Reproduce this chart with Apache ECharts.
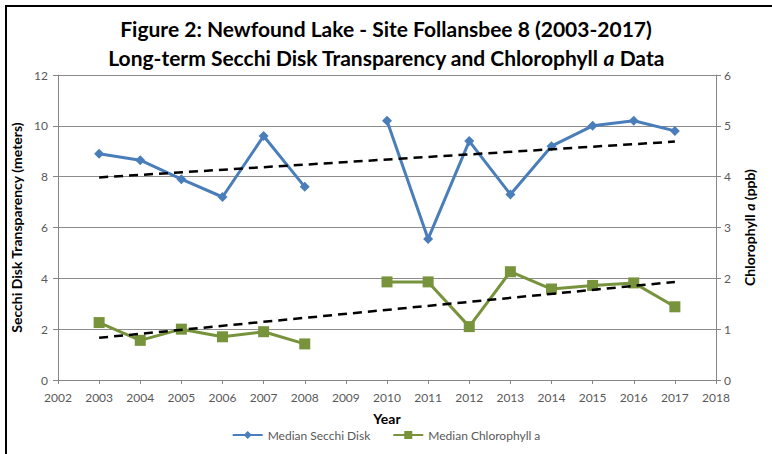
<!DOCTYPE html>
<html>
<head>
<meta charset="utf-8">
<script src="https://cdn.jsdelivr.net/npm/echarts@6/dist/echarts.min.js"></script>
<style>
  html, body { margin: 0; padding: 0; background: #fff; }
  #frame { position: absolute; left: 5px; top: 5px; width: 767px; height: 449px;
           border-left: 2px solid #000; border-top: 2px solid #000; box-sizing: border-box; }
  #chart { position: absolute; left: 0; top: 0; width: 772px; height: 454px; }
</style>
</head>
<body>
<div id="chart"></div>
<div id="frame"></div>
<script>
// chart data
const years = [2003, 2004, 2005, 2006, 2007, 2008, 2009, 2010, 2011, 2012, 2013, 2014, 2015, 2016, 2017];
const secchi = [8.9, 8.65, 7.9, 7.2, 9.6, 7.6, null, 10.2, 5.55, 9.4, 7.3, 9.2, 10.0, 10.2, 9.8];
const chlorophyll = [1.13, 0.78, 1.0, 0.85, 0.95, 0.71, null, 1.93, 1.93, 1.05, 2.13, 1.79, 1.86, 1.91, 1.44];
// trend line ends (year, value)
const secchiTrend = [[2003, 7.97], [2017, 9.38]];
const chlTrend = [[2003, 0.83], [2017, 1.93]];

const toPairs = (vals) => years.map((y, i) => [y, vals[i] == null ? '-' : vals[i]]);

const font = 'Lato, "Open Sans", sans-serif';
const grey = '#595959';

const chart = echarts.init(document.getElementById('chart'), null, { renderer: 'svg' });
chart.setOption({
    animation: false,
    textStyle: { fontFamily: font },
    title: {
        left: 'center',
        top: 13,
        itemGap: 8,
        text: 'Figure 2: Newfound Lake - Site Follansbee 8 (2003-2017)',
        subtext: '{b|Long-term Secchi Disk Transparency and Chlorophyll }{i|a}{b| Data}',
        textStyle: { fontFamily: font, fontSize: 21, fontWeight: 'bold', color: '#000' },
        subtextStyle: {
            rich: {
                b: { fontFamily: font, fontSize: 21, fontWeight: 'bold', color: '#000' },
                i: { fontFamily: font, fontSize: 21, fontWeight: 'bold', fontStyle: 'italic', color: '#000' }
            }
        }
    },
    legend: {
        bottom: 8,
        left: 'center',
        itemWidth: 30,
        itemHeight: 10,
        itemGap: 22,
        textStyle: { color: grey, fontSize: 12, fontFamily: font },
        data: ['Median Secchi Disk', 'Median Chlorophyll a']
    },
    grid: { left: 58, right: 56, top: 75, bottom: 74 },
    xAxis: {
        type: 'value',
        min: 2002,
        max: 2018,
        interval: 1,
        name: 'Year',
        nameLocation: 'middle',
        nameGap: 31,
        nameTextStyle: { fontWeight: 'bold', fontSize: 14, color: '#000' },
        axisLine: { lineStyle: { color: '#868686', width: 1 } },
        axisTick: { show: true, inside: false, length: 4, lineStyle: { color: '#868686' } },
        axisLabel: { color: grey, fontSize: 12, margin: 11, formatter: (v) => String(v) },
        splitLine: { show: false }
    },
    yAxis: [{
        type: 'value',
        min: 0,
        max: 12,
        interval: 2,
        name: 'Secchi Disk Transparency (meters)',
        nameLocation: 'middle',
        nameGap: 32,
        nameTextStyle: { fontWeight: 'bold', fontSize: 14, color: '#000' },
        axisLine: { show: true, lineStyle: { color: '#868686' } },
        axisTick: { show: true, length: 5, lineStyle: { color: '#868686' } },
        axisLabel: { color: grey, fontSize: 12, margin: 10 },
        splitLine: { lineStyle: { color: '#8c8c8c', width: 1 } }
    }, {
        type: 'value',
        min: 0,
        max: 6,
        interval: 1,
        position: 'right',
        name: '{b|Chlorophyll }{i|a}{b| (ppb)}',
        nameLocation: 'middle',
        nameGap: 26,
        nameTextStyle: {
            rich: {
                b: { fontFamily: font, fontWeight: 'bold', fontSize: 14, color: '#000' },
                i: { fontFamily: font, fontWeight: 'bold', fontStyle: 'italic', fontSize: 14, color: '#000' }
            }
        },
        axisLine: { show: true, lineStyle: { color: '#868686' } },
        axisTick: { show: true, length: 5, lineStyle: { color: '#868686' } },
        axisLabel: { color: grey, fontSize: 12, margin: 8 },
        splitLine: { show: false }
    }],
    series: [{
        name: 'Median Secchi Disk',
        type: 'line',
        yAxisIndex: 0,
        data: toPairs(secchi),
        connectNulls: false,
        symbol: 'diamond',
        symbolSize: 10,
        lineStyle: { color: '#4a7ebb', width: 3 },
        itemStyle: { color: '#4a7ebb' },
        z: 3
    }, {
        name: 'Median Chlorophyll a',
        type: 'line',
        yAxisIndex: 1,
        data: toPairs(chlorophyll),
        connectNulls: false,
        symbol: 'rect',
        symbolSize: 11,
        lineStyle: { color: '#77933c', width: 3 },
        itemStyle: { color: '#77933c' },
        z: 3
    }, {
        name: 'Secchi trend',
        type: 'line',
        yAxisIndex: 0,
        data: secchiTrend,
        symbol: 'none',
        lineStyle: { color: '#000', width: 2.5, type: [9, 6] },
        z: 4
    }, {
        name: 'Chlorophyll trend',
        type: 'line',
        yAxisIndex: 1,
        data: chlTrend,
        symbol: 'none',
        lineStyle: { color: '#000', width: 2.5, type: [9, 6] },
        z: 4
    }]
});
</script>
</body>
</html>
